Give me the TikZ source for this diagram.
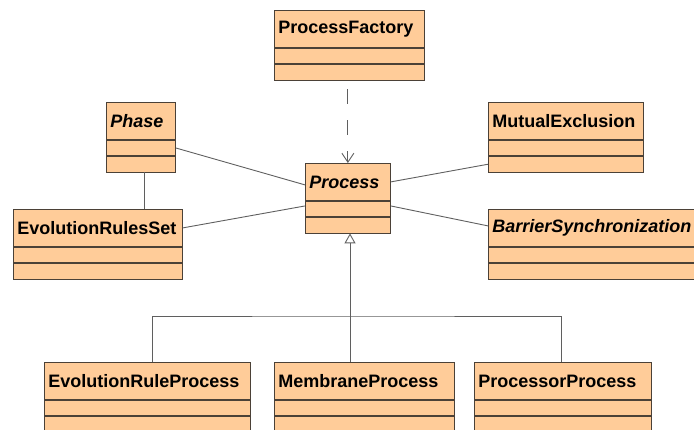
\documentclass[tikz,border=0pt]{standalone}
\usepackage{fontspec}
\setmainfont{Liberation Sans}
\usepackage{tikz}
\usetikzlibrary{positioning, arrows.meta}

\definecolor{classfill}{RGB}{255,204,153}
\definecolor{classline}{RGB}{75,65,55}
\definecolor{linkline}{RGB}{95,95,95}

\begin{document}
\begin{tikzpicture}[x=1pt, y=-1pt,
    classhead/.style={draw=classline, fill=classfill, line width=0.8pt, rectangle,
        anchor=north west, minimum height=37pt, inner xsep=4pt, inner ysep=0pt,
        align=left, font=\fontsize{18}{20}\selectfont\bfseries},
    classpart/.style={draw=classline, fill=classfill, line width=0.8pt, rectangle,
        minimum height=15.5pt, inner sep=0pt},
    link/.style={draw=linkline, line width=0.9pt},
    node distance=0pt]
    \useasboundingbox (0,0) rectangle (694,430);
    \clip (0,0) rectangle (694,430);

    % factory on top
    \node[classhead, minimum width=150pt, text width=142pt] (pf) at (274,10) {ProcessFactory};
    \node[classpart, minimum width=150pt, below=of pf] (pfA) {};
    \node[classpart, minimum width=150pt, below=of pfA] (pfB) {};

    % left side
    \node[classhead, minimum width=69pt, text width=61pt] (phase) at (106,102) {\itshape Phase};
    \node[classpart, minimum width=69pt, below=of phase] (phaseA) {};
    \node[classpart, minimum width=69pt, below=of phaseA] (phaseB) {};

    \node[classhead, minimum width=169pt, text width=161pt] (ers) at (13,209) {EvolutionRulesSet};
    \node[classpart, minimum width=169pt, below=of ers] (ersA) {};
    \node[classpart, minimum width=169pt, below=of ersA] (ersB) {};

    % the abstract process
    \node[classhead, minimum width=85pt, text width=77pt] (proc) at (305,163) {\itshape Process};
    \node[classpart, minimum width=85pt, below=of proc] (procA) {};
    \node[classpart, minimum width=85pt, below=of procA] (procB) {};

    % right side
    \node[classhead, minimum width=155pt, text width=147pt] (mutex) at (488,102) {MutualExclusion};
    \node[classpart, minimum width=155pt, below=of mutex] (mutexA) {};
    \node[classpart, minimum width=155pt, below=of mutexA] (mutexB) {};

    \node[classhead, minimum width=215pt, text width=207pt] (barrier) at (488,209) {\itshape BarrierSynchronization};
    \node[classpart, minimum width=215pt, below=of barrier] (barrierA) {};
    \node[classpart, minimum width=215pt, below=of barrierA] (barrierB) {};

    % subclasses
    \node[classhead, minimum width=206pt, text width=198pt] (erp) at (44,362) {EvolutionRuleProcess};
    \node[classpart, minimum width=206pt, below=of erp] (erpA) {};
    \node[classpart, minimum width=206pt, below=of erpA] (erpB) {};

    \node[classhead, minimum width=180pt, text width=172pt] (mem) at (274,362) {MembraneProcess};
    \node[classpart, minimum width=180pt, below=of mem] (memA) {};
    \node[classpart, minimum width=180pt, below=of memA] (memB) {};

    \node[classhead, minimum width=177pt, text width=169pt] (ppr) at (474,362) {ProcessorProcess};
    \node[classpart, minimum width=177pt, below=of ppr] (pprA) {};
    \node[classpart, minimum width=177pt, below=of pprA] (pprB) {};

    % dependency
    \draw[link, dash pattern=on 15pt off 16pt, dash phase=22pt,
          -{Straight Barb[length=9pt, width=12pt]}]
        (proc.north |- pfB.south) -- (proc.north);

    % associations
    \draw[link] (phaseB.south -| 144,0) -- (ers.north -| 144,0);
    \draw[link] (phaseA.east) -- ([yshift=-3pt]proc.west);
    \draw[link] (ers.east) -- ([yshift=3pt]procA.west);
    \draw[link] (proc.east) -- (mutexB.west);
    \draw[link] ([yshift=3pt]procA.east) -- ([yshift=2pt]barrier.west);

    % inheritance tree
    \coordinate (fork) at (350,316);
    \draw[link, -{Triangle[open, length=10pt, width=11pt]}] (fork) -- (fork |- procB.south);
    \draw[link] ([xshift=5pt]erp.north) |- (fork) -| ([xshift=-1pt]ppr.north);
    \draw[link] (fork) -- (fork |- mem.north);
\end{tikzpicture}
\end{document}
